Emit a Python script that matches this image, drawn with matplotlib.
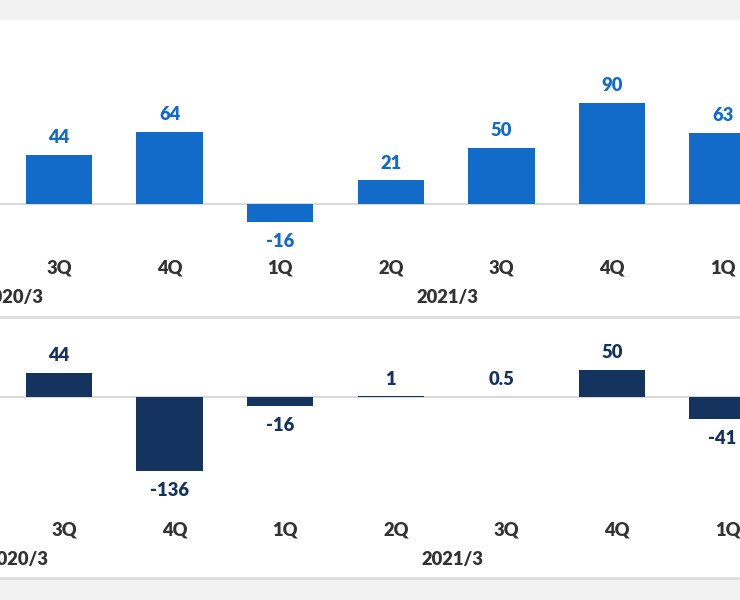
import matplotlib.pyplot as plt
import matplotlib.transforms as mtransforms
from matplotlib.patches import Rectangle

plt.rcParams['font.family'] = ['Lato', 'DejaVu Sans']

# data
kvartaly = ['3Q', '4Q', '1Q', '2Q', '3Q', '4Q', '1Q']
roky = ['2020/3', '2021/3']
roky_x = [-0.42, 3.51]
horni = [44, 64, -16, 21, 50, 90, 63]
dolni = [44, -136, -16, 1, 0.5, 50, -41]

modra = '#136BC9'
tmava = '#14335F'
seda_text = '#333333'
seda_cara = '#d9d9d9'
vaha = 'heavy'
velikost = 13.2

fig = plt.figure(figsize=(7.4, 6), dpi=100)
fig.patch.set_facecolor('#f2f2f2')

# bily panel
fig.patches.append(Rectangle((0, 1 - 580 / 600), 1, 560 / 600, transform=fig.transFigure,
                             facecolor='white', edgecolor='none', zorder=-10))

x = list(range(len(kvartaly)))
xlim = (-59 / 110.6, (740 - 59) / 110.6)


def panel(ax, hodnoty, barva, ylim, y_kv, y_rok, posun):
    ax.set_facecolor('none')
    ax.bar(x, hodnoty, width=0.6, color=barva, zorder=2)
    ax.axhline(0, color=seda_cara, lw=1.5, zorder=1)
    ax.set_xlim(*xlim)
    ax.set_ylim(*ylim)
    ax.axis('off')

    for xi, v in zip(x, hodnoty):
        if v >= 0:
            ax.annotate(f"{v:g}", (xi, v), xytext=(0, 12.5), textcoords='offset points',
                        ha='center', va='center', fontsize=velikost, fontweight=vaha, color=barva)
        else:
            ax.annotate(f"{v:g}", (xi, v), xytext=(0, -14), textcoords='offset points',
                        ha='center', va='center', fontsize=velikost, fontweight=vaha, color=barva)

    tr = mtransforms.blended_transform_factory(ax.transData, fig.transFigure)
    for xi, k in zip(x, kvartaly):
        ax.text(xi + posun, 1 - y_kv / 600, k, transform=tr, ha='center', va='center',
                fontsize=velikost, fontweight=vaha, color=seda_text, clip_on=False)
    for xr, r in zip(roky_x, roky):
        ax.text(xr + posun, 1 - y_rok / 600, r, transform=tr, ha='center', va='center',
                fontsize=velikost, fontweight=vaha, color=seda_text, clip_on=False)


ax1 = fig.add_axes([0, (600 - 317) / 600, 1, 297 / 600])
panel(ax1, horni, modra, (-(317 - 204) / 1.123, (204 - 20) / 1.123), 268, 298, 0)

ax2 = fig.add_axes([0, (600 - 578) / 600, 1, 261 / 600])
panel(ax2, dolni, tmava, (-(578 - 397) / 0.545, (397 - 317) / 0.545), 530, 560, 0.045)

# oddelovaci cary
for yy in [317, 578]:
    fig.add_artist(plt.Line2D([0, 1], [1 - yy / 600] * 2, transform=fig.transFigure,
                              color='#dddddd', lw=2))

fig.savefig('out.png', dpi=100, facecolor=fig.get_facecolor())
